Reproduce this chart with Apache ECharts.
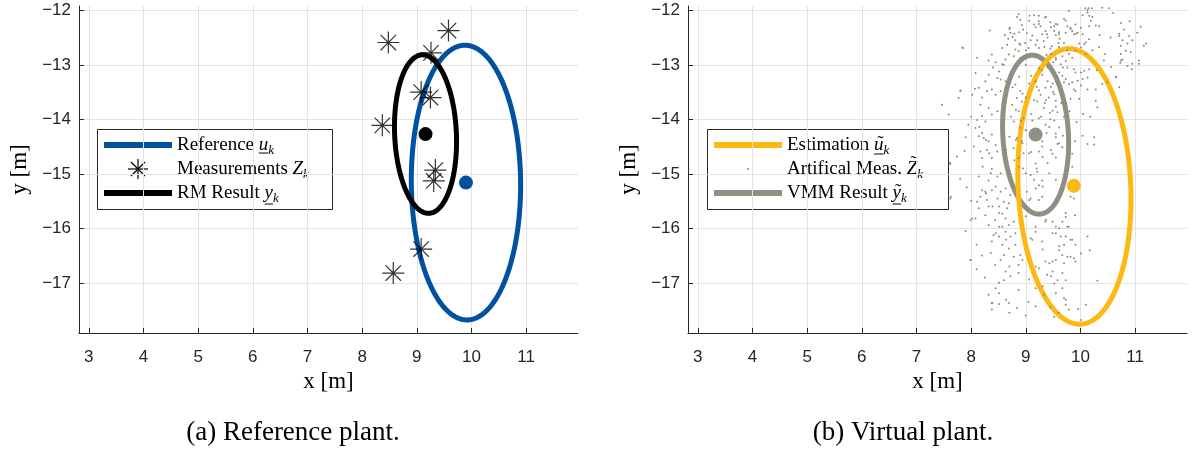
<!DOCTYPE html>
<html>
<head>
<meta charset="utf-8">
<script src="https://cdn.jsdelivr.net/npm/echarts@6/dist/echarts.min.js"></script>
<style>
  html, body { margin: 0; padding: 0; background: #fff; }
  #chart { width: 1197px; height: 450px; }
</style>
</head>
<body>
<div id="chart"></div>
<script>
// Axis ranges in metres (equal scale on both axes)
const xRange = [2.82, 11.95];
const yRange = [-17.92, -11.92];
const xTicks = [3, 4, 5, 6, 7, 8, 9, 10, 11];
const yTicks = [-17, -16, -15, -14, -13, -12];

// Extent ellipses: [centre x, centre y, half-width, half-height, tilt in degrees (ccw)]
const referenceEllipse = [9.90, -15.16, 1.00, 2.52, 0.5];
const rmEllipse = [9.16, -14.27, 0.565, 1.455, 2.5];
const estimationEllipse = [9.89, -15.23, 1.03, 2.53, 2.6];
const vmmEllipse = [9.18, -14.28, 0.60, 1.46, 3.0];

// Centre points
const referenceCentre = [[9.90, -15.16]];
const rmCentre = [[9.16, -14.27]];
const estimationCentre = [[9.88, -15.22]];
const vmmCentre = [[9.18, -14.28]];

// Measurements Z_k
const measurements = [
  [8.48, -12.59], [9.58, -12.37], [9.26, -12.78], [9.08, -13.50], [9.25, -13.60],
  [8.37, -14.11], [9.34, -14.93], [9.31, -15.13], [9.08, -16.38], [8.57, -16.82]
];

// Artificial measurements of the virtual plant
const artificialMeas = [
  [10.09,-11.96],[10.15,-11.96],[10.21,-11.96],[10.40,-11.95],[10.52,-11.96],[10.13,-12.04],[10.16,-12.10],[10.22,-12.12],
  [9.79,-12.01],[9.70,-12.16],[9.58,-12.26],[9.52,-12.29],[9.76,-12.29],[9.82,-12.32],[9.91,-12.26],[10.01,-12.32],
  [10.04,-12.44],[9.95,-12.41],[9.88,-12.44],[9.85,-12.38],[9.73,-12.41],[9.61,-12.44],[9.55,-12.45],[10.16,-12.29],
  [10.34,-12.29],[10.74,-12.23],[10.80,-12.35],[10.89,-12.47],[11.04,-12.41],[10.71,-12.47],[11.16,-12.65],[10.74,-12.65],
  [10.83,-12.74],[10.92,-12.77],[10.74,-12.80],[10.77,-12.90],[10.73,-12.96],[11.07,-12.98],[10.86,-13.02],[10.94,-13.08],
  [10.16,-12.53],[10.10,-12.59],[10.07,-12.62],[10.01,-12.68],[9.91,-12.74],[9.79,-12.80],[9.67,-12.84],[9.55,-12.87],
  [9.73,-12.93],[9.85,-12.87],[9.64,-12.99],[9.76,-13.05],[9.88,-13.08],[9.91,-13.14],[10.01,-13.14],[10.07,-13.11],
  [10.16,-13.08],[10.13,-13.23],[10.04,-13.26],[9.95,-13.29],[9.85,-13.32],[9.79,-13.35],[9.70,-13.32],[9.67,-13.20],
  [9.61,-13.14],[9.73,-13.26],[9.88,-13.45],[9.91,-13.48],[10.01,-13.38],[10.13,-13.45],[10.28,-13.45],[10.40,-13.35],
  [10.49,-13.32],[10.65,-13.23],[10.71,-13.41],[10.28,-13.66],[10.31,-13.78],[9.52,-13.54],[9.55,-13.66],[9.49,-13.84],
  [9.58,-13.87],[9.52,-14.02],[9.61,-14.15],[9.55,-14.33],[9.58,-14.45],[9.67,-14.51],[10.04,-14.30],[10.25,-14.33],
  [10.13,-14.45],[10.25,-14.46],[9.49,-14.63],[9.55,-14.70],[9.85,-14.63],
  [8.87,-12.07],[8.84,-12.12],[8.90,-12.17],[9.07,-12.10],[9.24,-12.10],[9.35,-12.13],[9.24,-12.20],[9.15,-12.26],
  [9.18,-12.31],[9.27,-12.29],[9.36,-12.38],[9.30,-12.44],[9.39,-12.44],[8.71,-12.32],[8.72,-12.41],[8.34,-12.37],
  [8.76,-12.49],[8.81,-12.55],[8.90,-12.63],[8.99,-12.60],[9.09,-12.55],[9.18,-12.63],[9.24,-12.69],[9.33,-12.56],
  [8.66,-12.63],[8.57,-12.69],[8.81,-12.72],[8.87,-12.75],[7.85,-12.69],[9.05,-12.69],[8.38,-12.81],[8.11,-12.87],
  [8.32,-12.92],[8.63,-12.90],[8.69,-12.81],[8.78,-12.84],[8.90,-12.87],[8.57,-12.99],[8.51,-13.12],[8.48,-13.24],
  [8.54,-13.27],[8.63,-13.30],[8.72,-13.18],[8.32,-13.18],[8.26,-13.30],[8.08,-13.15],[8.14,-13.42],[8.07,-13.44],
  [8.38,-13.45],[8.29,-13.48],[8.45,-13.55],[8.54,-13.48],[7.80,-13.48],[7.77,-13.61],[7.47,-13.73],[7.59,-13.91],
  [8.17,-13.73],[8.32,-13.79],[8.48,-13.85],[8.38,-13.91],[8.20,-13.94],[8.11,-14.01],[8.26,-14.04],[8.08,-14.16],
  [8.20,-14.25],[8.14,-14.31],[8.23,-14.34],[7.90,-14.33],[8.38,-14.28],[8.32,-14.40],[8.45,-14.47],[8.17,-14.59],
  [8.29,-14.56],[8.48,-14.59],[8.38,-14.71],[8.20,-14.71],[7.62,-14.82],[7.74,-14.68],
  [8.81,-13.36],[8.90,-13.48],[8.84,-13.61],[8.93,-13.67],[8.75,-13.73],[8.87,-13.85],[8.96,-13.98],[8.78,-14.04],
  [8.90,-14.16],[8.84,-14.34],[8.93,-14.40],[8.78,-14.53],[8.96,-14.62],[8.87,-14.71],
  [9.24,-13.06],[9.30,-13.18],[9.18,-13.30],[9.36,-13.42],[9.27,-13.55],[9.21,-13.67],[9.33,-13.79],[9.24,-13.98],
  [9.36,-14.10],[9.30,-14.40],[9.24,-14.59],
  [9.00,-13.00],[9.10,-13.20],[9.30,-13.10],[9.40,-13.30],[9.20,-13.40],[9.00,-13.60],[9.35,-13.70],[9.10,-13.90],
  [9.45,-14.00],[9.00,-14.20],[9.30,-14.50],[9.10,-14.60],[9.40,-14.80],[9.20,-14.90],[8.95,-14.90],[9.50,-13.50],
  [9.55,-12.90],[9.45,-12.70],[9.60,-12.60],[9.40,-12.50],
  [7.61,-14.80],[7.81,-13.47],[7.84,-12.68],[7.63,-15.42],[7.99,-15.85],[7.99,-16.58],
  [7.80,-15.09],[8.14,-15.05],[8.32,-15.12],[8.48,-15.05],[8.38,-14.91],[8.54,-14.99],[7.62,-15.45],[8.20,-15.30],
  [8.26,-15.33],[8.38,-15.30],[8.54,-15.33],[8.63,-15.27],[8.72,-15.39],[8.17,-15.42],[8.11,-15.51],[8.29,-15.48],
  [8.48,-15.45],[8.60,-15.51],[8.69,-15.54],[8.14,-15.63],[8.32,-15.60],[8.51,-15.60],[8.66,-15.63],[8.57,-15.73],
  [8.26,-15.76],[8.08,-15.82],[8.02,-15.82],[8.44,-15.85],[8.63,-15.82],[8.32,-15.94],[8.51,-15.97],[8.69,-15.94],
  [8.78,-15.88],[8.41,-16.12],[8.51,-16.15],[8.63,-16.06],[8.72,-16.15],[8.81,-16.09],[8.38,-16.24],[8.57,-16.30],
  [8.69,-16.37],[8.81,-16.30],[8.60,-16.49],[8.78,-16.52],[8.90,-16.49],[8.44,-16.67],[8.87,-16.67],[8.63,-16.79],
  [8.72,-16.88],[8.87,-16.82],[7.99,-16.58],[8.32,-17.22],[8.51,-17.19],[8.38,-17.37],[8.51,-17.39],[8.69,-17.37],
  [8.87,-17.13],[8.38,-17.49],[8.84,-17.46],
  [9.02,-15.33],[9.18,-15.27],[9.24,-15.21],[9.09,-15.45],[9.30,-15.42],[9.05,-15.63],[9.24,-15.76],[9.36,-15.88],
  [9.18,-16.06],[9.09,-16.18],[9.30,-16.24],[9.36,-16.61],[9.24,-16.73],[9.39,-16.85],[9.18,-17.10],[9.33,-17.22],
  [9.09,-15.02],[9.21,-14.96],[9.30,-15.12],
  [9.85,-14.87],[9.82,-15.42],[9.88,-15.45],[9.90,-15.76],[9.73,-15.79],[9.67,-15.88],[9.76,-15.97],[9.61,-16.00],
  [9.55,-15.97],[9.49,-15.88],[9.55,-16.09],[9.64,-16.15],[9.73,-16.15],[9.82,-16.21],[9.91,-16.30],[10.13,-16.15],
  [9.70,-16.30],[9.61,-16.40],[9.67,-16.49],[9.76,-16.52],[9.82,-16.52],[9.88,-16.55],[10.01,-16.46],[10.17,-16.40],
  [9.49,-16.61],[9.55,-16.58],[9.70,-16.64],[9.91,-16.61],[9.49,-16.79],[9.46,-16.88],[9.58,-16.95],[9.73,-16.95],
  [10.31,-16.96],[9.52,-17.01],[9.67,-17.10],[9.70,-17.28],[9.73,-17.31],[10.10,-17.40],[9.79,-17.49],[9.96,-17.48],
  [9.73,-17.40],[9.52,-17.62],[10.01,-17.68],
  [8.70,-12.34],[8.79,-12.43],[8.88,-12.40],[9.06,-12.19],[9.15,-12.09],[9.24,-12.25],[9.37,-12.12],[9.46,-12.31],
  [9.55,-12.25],[9.61,-12.40],[9.73,-12.19],[9.82,-12.34],[9.92,-12.43],[10.04,-12.09],[10.13,-12.00],[10.19,-12.19],
  [10.28,-12.28],[8.88,-12.61],[9.00,-12.73],[9.21,-12.55],[9.34,-12.67],[9.46,-12.80],[9.61,-12.67],[9.76,-12.73],
  [9.98,-12.61],[10.10,-12.80],[10.22,-12.73],[10.34,-12.67],[10.43,-12.92],[10.56,-13.04],[10.65,-13.22],[10.71,-12.43],
  [10.77,-12.55],[10.86,-12.61],[10.74,-12.92],[10.95,-12.98],[11.07,-12.92],[11.20,-12.61],
  [8.70,-13.28],[8.76,-13.41],[8.88,-13.22],[8.94,-13.53],[9.06,-13.34],[9.15,-13.65],[9.24,-13.47],[9.37,-13.65],
  [9.49,-13.34],[9.55,-13.77],[8.82,-13.83],[8.73,-13.95],[8.91,-14.02],[9.00,-14.20],[9.12,-14.02],[9.28,-13.95],
  [9.43,-14.14],[9.55,-14.26],[9.61,-14.44],[9.46,-14.56],[9.31,-14.69],[9.18,-14.81],[9.06,-14.62],[8.94,-14.44],
  [8.82,-14.38],[8.70,-14.32],[8.64,-14.56],[8.79,-14.75],[8.88,-14.87],[9.00,-14.99],[9.15,-15.11],[9.31,-15.23],
  [9.43,-14.99],[9.55,-15.11],[9.06,-15.48],[9.24,-15.48],
  [8.15,-14.14],[8.27,-14.38],[8.33,-14.62],[8.21,-14.87],[8.36,-14.99],[8.45,-15.23],[8.27,-15.36],[8.39,-15.60],
  [8.51,-15.72],[8.57,-15.97],[8.45,-16.09],[8.64,-16.21],[8.36,-16.45],[8.54,-16.58],[8.70,-16.70],[8.51,-17.00],
  [8.64,-17.31],[8.39,-17.37],
  [9.00,-15.78],[9.18,-15.97],[9.37,-15.84],[9.49,-16.09],[9.12,-16.21],[9.31,-16.39],[9.61,-16.33],[9.79,-15.97],
  [8.94,-16.58],[9.18,-16.70],[9.43,-16.64],[9.67,-16.82],[9.06,-16.94],[9.31,-17.06],[9.55,-17.19],[9.18,-17.43],
  [9.73,-15.72],[9.85,-16.21],
  [8.62,-12.45],[8.68,-12.52],[8.95,-12.35],[9.02,-12.42],[9.12,-12.46],[8.93,-12.27],[9.45,-12.22],[9.52,-12.38],
  [9.62,-12.52],[9.70,-12.60],[9.48,-12.66],[9.38,-12.82],[9.50,-12.95],[9.68,-13.05],[9.40,-13.05],[9.58,-13.22],
  [9.46,-13.40],[9.62,-13.40],[9.70,-13.55],[9.42,-13.60],[9.65,-13.70],[9.44,-13.88],[9.70,-13.95],[9.38,-14.25],
  [9.68,-14.30],[9.75,-14.15],[9.80,-13.85],[9.82,-13.62],[9.98,-13.62],[10.05,-13.90],[9.93,-14.05],[10.18,-13.95],
  [9.90,-14.40],[9.78,-14.45],[8.60,-13.00],[8.45,-12.95],[8.40,-13.05],[8.20,-13.60],[8.02,-13.55],[8.00,-13.95],
  [7.95,-14.10],[8.05,-14.50],[7.88,-14.58],[7.92,-15.25],[8.00,-15.50],[7.90,-16.05],[8.10,-16.30],[8.20,-16.50],
  [8.25,-16.90],[8.10,-16.75],[8.60,-16.95],[8.45,-17.10],[8.70,-17.55],[9.00,-17.60],[9.05,-17.35],[9.45,-17.45],
  [9.60,-17.55],[10.55,-12.50],[10.60,-12.05],[10.35,-12.45],[10.45,-12.80],[10.30,-13.10],[10.90,-12.20],[11.10,-12.30],
  [10.95,-12.55]
];

const COL_BLUE = '#0052a0';
const COL_BLACK = '#000000';
const COL_YELLOW = '#fdb812';
const COL_GREY = '#8f8f83';
const COL_DOTS = '#8a8a80';
const AXIS_COL = '#262626';
const SERIF = '"Liberation Serif", "Times New Roman", serif';
const SANS = '"Liberation Sans", Arial, Helvetica, sans-serif';

const chart = echarts.init(document.getElementById('chart'), null, { renderer: 'canvas' });

// tick labels use a true minus sign
const tickFormatter = v => String(v).replace('-', '\u2212');

function xAxisFor(gridIndex) {
  return {
    type: 'value', gridIndex, min: xRange[0], max: xRange[1],
    minInterval: 1, maxInterval: 1,
    name: 'x [m]', nameLocation: 'middle', nameGap: 37,
    nameTextStyle: { fontFamily: SERIF, fontSize: 23, color: '#000' },
    axisLine: { show: true, onZero: false, lineStyle: { color: AXIS_COL, width: 1 } },
    axisTick: { show: true, inside: true, length: 5, customValues: xTicks, lineStyle: { color: AXIS_COL } },
    axisLabel: { customValues: xTicks, margin: 16, fontFamily: SANS, fontSize: 17, color: AXIS_COL, formatter: tickFormatter },
    splitLine: { show: true, lineStyle: { color: '#e3e3e3', width: 1 } }
  };
}
function yAxisFor(gridIndex) {
  return {
    type: 'value', gridIndex, min: yRange[0], max: yRange[1],
    minInterval: 1, maxInterval: 1,
    name: 'y [m]', nameLocation: 'middle', nameGap: 48, nameRotate: 90,
    nameTextStyle: { fontFamily: SERIF, fontSize: 23, color: '#000' },
    axisLine: { show: true, onZero: false, lineStyle: { color: AXIS_COL, width: 1 } },
    axisTick: { show: true, inside: true, length: 5, customValues: yTicks, lineStyle: { color: AXIS_COL } },
    axisLabel: { customValues: yTicks, margin: 8, fontFamily: SANS, fontSize: 17, color: AXIS_COL, formatter: tickFormatter },
    splitLine: { show: true, lineStyle: { color: '#e3e3e3', width: 1 } }
  };
}

// Ellipse outline drawn from its parameters through the axis scales
function ellipseSeries(name, gridIndex, params, color) {
  return {
    type: 'custom', name, xAxisIndex: gridIndex, yAxisIndex: gridIndex,
    dimensions: ['cx', 'cy', 'hw', 'hh', 'tilt'],
    encode: { x: 0, y: 1 },
    data: [params], silent: true, clip: false,
    renderItem: function (p, api) {
      const cx = api.value(0), cy = api.value(1), a = api.value(2), b = api.value(3);
      const th = api.value(4) * Math.PI / 180;
      const pts = [];
      for (let i = 0; i < 360; i++) {
        const t = i * Math.PI / 180;
        const dx = a * Math.cos(t), dy = b * Math.sin(t);
        pts.push(api.coord([cx + dx * Math.cos(th) - dy * Math.sin(th), cy + dx * Math.sin(th) + dy * Math.cos(th)]));
      }
      return { type: 'polygon', shape: { points: pts }, style: { fill: 'none', stroke: color, lineWidth: 5 } };
    }
  };
}

function dotSeries(name, gridIndex, data, color, size) {
  return { type: 'scatter', name, xAxisIndex: gridIndex, yAxisIndex: gridIndex, data,
    symbol: 'circle', symbolSize: size, itemStyle: { color, opacity: 1 }, silent: true };
}

const ASTERISK = 'path://M0,-1L0,1M-1,0L1,0M-0.7,-0.7L0.7,0.7M-0.7,0.7L0.7,-0.7';

// ---- legend and caption graphics ----
const measureCtx = document.createElement('canvas').getContext('2d');
function textWidth(font, s) { measureCtx.font = font; return measureCtx.measureText(s).width; }
const F_MAIN = '19px ' + SERIF;
const F_IT = 'italic 19px ' + SERIF;
const F_SUB = 'italic 13px ' + SERIF;

function txt(x, y, s, font, align) {
  return { type: 'text', x, y, silent: true,
    style: { text: s, font, fill: '#000', textFill: '#000', align: align || 'left', textAlign: align || 'left',
      verticalAlign: 'middle', textVerticalAlign: 'middle' } };
}

function legendRow(x, y, pieces) {
  const els = [];
  let cx = x;
  pieces.forEach(function (p) {
    const font = p.sub ? F_SUB : (p.it ? F_IT : F_MAIN);
    const w = textWidth(font, p.t);
    els.push(txt(cx, y + (p.sub ? 6 : 0), p.t, font));
    if (p.tilde !== undefined) {
      const tw = textWidth(F_MAIN, '\u02DC');
      els.push(txt(cx + w / 2 - tw / 2 + 1.5, y + p.tilde, '\u02DC', F_MAIN));
    }
    if (p.under !== undefined) {
      els.push({ type: 'line', silent: true, shape: { x1: cx, y1: y + p.under, x2: cx + w, y2: y + p.under },
        style: { stroke: '#000', lineWidth: 1 } });
    }
    cx += w;
  });
  return els;
}

function lineIcon(x1, x2, y, color) {
  return { type: 'rect', silent: true, shape: { x: x1, y: y - 3, width: x2 - x1, height: 6 }, style: { fill: color } };
}
function asteriskIcon(cx, cy, r) {
  const d = r * 0.7;
  const seg = (x1, y1, x2, y2) => ({ type: 'line', silent: true, shape: { x1, y1, x2, y2 }, style: { stroke: '#000', lineWidth: 1.2 } });
  return { type: 'group', children: [
    seg(cx, cy - r, cx, cy + r), seg(cx - r, cy, cx + r, cy),
    seg(cx - d, cy - d, cx + d, cy + d), seg(cx - d, cy + d, cx + d, cy - d)
  ] };
}
function legendBox(x, y, w, h) {
  return { type: 'rect', silent: true, shape: { x: x + 0.5, y: y + 0.5, width: w, height: h },
    style: { fill: '#fff', stroke: AXIS_COL, lineWidth: 1 } };
}

const legendA = [
  legendBox(97, 129, 235, 80),
  lineIcon(104, 172, 145, COL_BLUE),
  asteriskIcon(138, 169, 10),
  lineIcon(104, 172, 193, COL_BLACK)
].concat(
  legendRow(177, 145, [{ t: 'Reference ' }, { t: 'u', it: true, under: 8 }, { t: 'k', sub: true }]),
  legendRow(177, 169, [{ t: 'Measurements ' }, { t: 'Z', it: true }, { t: 'k', sub: true }]),
  legendRow(177, 193, [{ t: 'RM Result ' }, { t: 'y', it: true, under: 11 }, { t: 'k', sub: true }])
);

const legendB = [
  legendBox(707, 129, 241, 80),
  lineIcon(714, 782, 145, COL_YELLOW),
  { type: 'circle', silent: true, shape: { cx: 748, cy: 169, r: 1 }, style: { fill: COL_DOTS } },
  lineIcon(714, 782, 193, COL_GREY)
].concat(
  legendRow(787, 145, [{ t: 'Estimation ' }, { t: 'u', it: true, under: 9, tilde: -1 }, { t: 'k', sub: true }]),
  legendRow(787, 169, [{ t: 'Artifical Meas. ' }, { t: 'Z', it: true, tilde: -5 }, { t: 'k', sub: true }]),
  legendRow(787, 193, [{ t: 'VMM Result ' }, { t: 'y', it: true, under: 11, tilde: -1 }, { t: 'k', sub: true }])
);

const captions = [
  txt(293, 433, '(a) Reference plant.', '27px ' + SERIF, 'center'),
  txt(903, 433, '(b) Virtual plant.', '27px ' + SERIF, 'center')
];

chart.setOption({
  animation: false,
  backgroundColor: '#ffffff',
  grid: [
    { left: 79, top: 6, width: 499, height: 327 },
    { left: 688, top: 6, width: 499, height: 327 }
  ],
  xAxis: [xAxisFor(0), xAxisFor(1)],
  yAxis: [yAxisFor(0), yAxisFor(1)],
  series: [
    // (a) reference plant
    ellipseSeries('Reference', 0, referenceEllipse, COL_BLUE),
    dotSeries('Reference centre', 0, referenceCentre, COL_BLUE, 14),
    { type: 'scatter', name: 'Measurements', xAxisIndex: 0, yAxisIndex: 0, data: measurements,
      symbol: ASTERISK, symbolSize: 22, silent: true,
      itemStyle: { color: 'rgba(0,0,0,0)', borderColor: '#000', borderWidth: 1.2 } },
    ellipseSeries('RM Result', 0, rmEllipse, COL_BLACK),
    dotSeries('RM centre', 0, rmCentre, COL_BLACK, 14),
    // (b) virtual plant
    dotSeries('Artifical Meas.', 1, artificialMeas, COL_DOTS, 2),
    ellipseSeries('VMM Result', 1, vmmEllipse, COL_GREY),
    dotSeries('VMM centre', 1, vmmCentre, COL_GREY, 14),
    ellipseSeries('Estimation', 1, estimationEllipse, COL_YELLOW),
    dotSeries('Estimation centre', 1, estimationCentre, COL_YELLOW, 14)
  ],
  graphic: { elements: legendA.concat(legendB, captions) }
});
</script>
</body>
</html>
